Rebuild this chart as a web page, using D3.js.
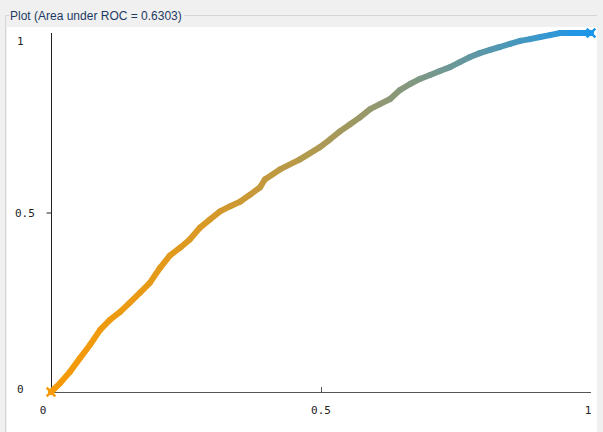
<!DOCTYPE html>
<html>
<head>
<meta charset="utf-8">
<script src="https://cdn.jsdelivr.net/npm/d3@7"></script>
<style>
  html, body { margin: 0; padding: 0; background: #ffffff; }
  svg { display: block; }
</style>
</head>
<body>
<div id="chart"></div>
<script>
// ROC curve points (false positive rate, true positive rate)
const fpr = [0, 0.017, 0.035, 0.054, 0.072, 0.091, 0.109, 0.128, 0.146, 0.165, 0.183,
    0.202, 0.22, 0.239, 0.257, 0.276, 0.294, 0.313, 0.331, 0.35, 0.369, 0.387, 0.396,
    0.424, 0.461, 0.498, 0.517, 0.535, 0.554, 0.572, 0.591, 0.609, 0.628, 0.646, 0.665,
    0.683, 0.702, 0.72, 0.739, 0.757, 0.776, 0.794, 0.813, 0.831, 0.85, 0.869, 0.887,
    0.906, 0.924, 0.943, 0.961, 1.0];
const tpr = [0, 0.025, 0.056, 0.095, 0.131, 0.173, 0.201, 0.223, 0.249, 0.277, 0.304,
    0.346, 0.38, 0.402, 0.425, 0.458, 0.48, 0.503, 0.517, 0.53, 0.55, 0.57, 0.592,
    0.62, 0.648, 0.682, 0.704, 0.726, 0.746, 0.765, 0.788, 0.802, 0.816, 0.841, 0.858,
    0.872, 0.883, 0.894, 0.905, 0.919, 0.933, 0.944, 0.953, 0.961, 0.97, 0.978, 0.983,
    0.989, 0.994, 1.0, 1.0, 1.0];
const xTicks = [0, 0.5, 1];
const yTicks = [0, 0.5, 1];
const xTickLabels = ["0", "0.5", "1"];
const yTickLabels = ["0", "0.5", "1"];
const title = "Plot (Area under ROC = 0.6303)";

const width = 603, height = 432;

const svg = d3.select("#chart").append("svg")
    .attr("width", width)
    .attr("height", height);

// window / group box background
svg.append("rect").attr("width", width).attr("height", height).attr("fill", "#f0f0f0");
svg.append("rect")
    .attr("x", 7).attr("y", 27)
    .attr("width", 590).attr("height", height - 27)
    .attr("fill", "#ffffff");

// group box frame
svg.append("path")
    .attr("d", "M5.5,432 V15.5 H9 M184,15.5 H597")
    .attr("fill", "none")
    .attr("stroke", "#d5d5d5");

svg.append("text")
    .attr("x", 10).attr("y", 20)
    .attr("font-family", "Liberation Sans, Arial, sans-serif")
    .attr("font-size", 12)
    .attr("fill", "#1e3a64")
    .text(title);

let x = d3.scaleLinear().domain([0, 1]).range([51, 591]);
let y = d3.scaleLinear().domain([0, 1]).range([392, 33]);

// axes
svg.append("g")
    .attr("transform", "translate(0,392)")
    .call(d3.axisBottom(x).tickValues([0.5]).tickSize(-5).tickFormat(""))
    .call(g => g.select(".domain").attr("stroke", "#555").attr("d", "M51,0.5H591"))
    .call(g => g.selectAll(".tick line").attr("stroke", "#555"));

svg.append("g")
    .attr("transform", "translate(51.5,0)")
    .call(d3.axisLeft(y).tickValues([0.5]).tickSize(5).tickFormat(""))
    .call(g => g.select(".domain").attr("stroke", "#222").attr("d", "M0,33V392"))
    .call(g => g.selectAll(".tick line").attr("stroke", "#222"));

// tick labels
const labelFont = "DejaVu Sans Mono, monospace";
svg.selectAll(".xlab")
    .data(xTicks)
    .enter().append("text")
    .attr("class", "xlab")
    .attr("x", (d, i) => x(d) + (i === 0 ? -8 : (i === 2 ? -3 : 0)))
    .attr("y", 414)
    .attr("text-anchor", "middle")
    .attr("font-family", labelFont)
    .attr("font-size", 11)
    .attr("fill", "#222")
    .text((d, i) => xTickLabels[i]);

svg.selectAll(".ylab")
    .data(yTicks)
    .enter().append("text")
    .attr("class", "ylab")
    .attr("x", (d, i) => i === 1 ? 15 : 17)
    .attr("y", (d, i) => y(d) + (i === 0 ? 1 : (i === 2 ? 12 : 4)))
    .attr("font-family", labelFont)
    .attr("font-size", 11)
    .attr("fill", "#222")
    .text((d, i) => yTickLabels[i]);

// curve colour runs from orange to blue, staying orange longer at the low end
const color = d3.scaleLinear()
    .domain([0, 1])
    .range(["#f59a08", "#1a96ec"])
    .interpolate(d3.interpolateRgb);
const shade = f => color(Math.pow(f, 1.6));

const pts = fpr.map((f, i) => ({f: f, t: tpr[i]}));

const curve = svg.append("g");
for (let i = 0; i < pts.length - 1; i++) {
    curve.append("line")
        .attr("x1", x(pts[i].f)).attr("y1", y(pts[i].t))
        .attr("x2", x(pts[i + 1].f)).attr("y2", y(pts[i + 1].t))
        .attr("stroke", shade((pts[i].f + pts[i + 1].f) / 2))
        .attr("stroke-width", 6)
        .attr("stroke-linecap", "round");
}

// cross markers at the two ends
const cross = d3.symbol().type(d3.symbolTimes).size(50);
curve.selectAll(".mark")
    .data([pts[0], pts[pts.length - 1]])
    .enter().append("path")
    .attr("class", "mark")
    .attr("transform", d => "translate(" + x(d.f) + "," + y(d.t) + ")")
    .attr("d", cross)
    .attr("fill", "none")
    .attr("stroke", d => shade(d.f))
    .attr("stroke-width", 2.5);
</script>
</body>
</html>
